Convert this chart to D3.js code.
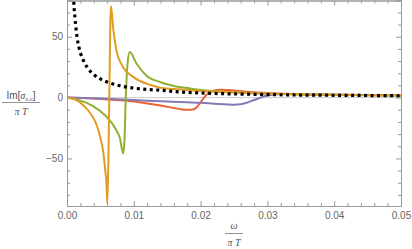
<!DOCTYPE html>
<html>
<head>
<meta charset="utf-8">
<script src="https://cdn.jsdelivr.net/npm/d3@7"></script>
<style>
  body { margin: 0; background: #fff; }
  svg { display: block; }
  .tick text { font-family: "Liberation Sans", Arial, sans-serif; font-size: 10px; fill: #666; }
  .lbl { font-family: "Liberation Serif", "Times New Roman", serif; fill: #555; }
</style>
</head>
<body>
<div id="chart"></div>
<script>
// curve samples: omega/(pi T) and Im[sigma]/(pi T)
var blackW = [0.0009, 0.001, 0.0012, 0.0015, 0.002, 0.0025, 0.003, 0.004, 0.005, 0.006, 0.007, 0.008, 0.01, 0.012, 0.014, 0.017, 0.02, 0.025, 0.03, 0.035, 0.04, 0.045, 0.05];
var blackV = [95, 80, 65, 50, 37, 30, 25, 19, 15.3, 12.8, 11, 9.6, 7.8, 6.7, 6, 4.6, 3.8, 3, 2.5, 2.1, 1.9, 1.7, 1.5];

var orangeW = [0, 0.0012, 0.0027, 0.0037, 0.00445, 0.0049, 0.00543, 0.00569, 0.00594, 0.00603, 0.0062, 0.00633, 0.0065, 0.0066, 0.0069, 0.0074, 0.0084, 0.0099, 0.0124, 0.0139, 0.016, 0.0184, 0.02, 0.025, 0.03, 0.035, 0.04, 0.05];
var orangeV = [0, -1.5, -7.7, -14.5, -22.7, -31, -44.6, -58, -74, -87, -50, 0, 65, 75, 58, 39, 25, 17, 10.5, 8.2, 7, 6, 5.5, 4.2, 3.2, 2.7, 2.3, 1.9];

var greenW = [0, 0.001, 0.002, 0.0037, 0.0057, 0.0072, 0.0079, 0.00843, 0.0086, 0.0088, 0.0091, 0.0094, 0.0104, 0.0119, 0.0139, 0.016, 0.0184, 0.02, 0.025, 0.03, 0.035, 0.04, 0.05];
var greenV = [0, -1, -2.5, -6.3, -14.5, -25, -33, -46, -35, 0, 30, 37.4, 28, 18, 12.8, 9.5, 7.5, 6.3, 4.3, 3.2, 2.6, 2.2, 1.8];

var redW = [0, 0.002, 0.004, 0.006, 0.008, 0.01, 0.012, 0.014, 0.016, 0.017, 0.018, 0.019, 0.0195, 0.02, 0.0205, 0.021, 0.0215, 0.022, 0.023, 0.024, 0.025, 0.0275, 0.03, 0.0325, 0.035, 0.04, 0.05];
var redV = [0, -0.3, -0.8, -1.5, -2.2, -3.3, -4.8, -6.5, -8.5, -9.5, -10, -9.5, -7.5, -4, 0, 3, 4.8, 5.8, 6.4, 6.3, 5.8, 4.6, 3.8, 3.2, 2.8, 2.3, 1.9];

var purpleW = [0, 0.005, 0.01, 0.015, 0.02, 0.022, 0.024, 0.025, 0.026, 0.027, 0.028, 0.029, 0.03, 0.031, 0.032, 0.033, 0.035, 0.04, 0.05];
var purpleV = [0, -0.8, -2, -3.2, -4.3, -5, -5.7, -5.9, -5.5, -4, -2, 0, 1.8, 2.6, 2.9, 2.9, 2.8, 2.4, 2];

var xMajor = [0, 0.01, 0.02, 0.03, 0.04, 0.05];
var xLabels = ["0.00", "0.01", "0.02", "0.03", "0.04", "0.05"];
var yMajor = [-50, 0, 50];
var yLabels = ["\u221250", "0", "50"];

var W = 412, H = 249;
var L = 67, R = 401, T = 0.5, B = 206;

var svg = d3.select("#chart").append("svg").attr("width", W).attr("height", H);

var x = d3.scaleLinear().domain([0, 0.05]).range([L, R]);
var y = d3.scaleLinear().domain([-89.1, 79.8]).range([B, T]);

var xMinor = d3.range(0, 0.0501, 0.002).filter(function(v) { return Math.abs(v * 100 - Math.round(v * 100)) > 1e-6; });
var yMinor = d3.range(-80, 80, 10).filter(function(v) { return v % 50 !== 0; });

// zero axis line
svg.append("line").attr("x1", L).attr("x2", R).attr("y1", y(0)).attr("y2", y(0))
    .attr("stroke", "#ccc").attr("stroke-width", 1);

// curves
svg.append("clipPath").attr("id", "clip").append("rect")
    .attr("x", L).attr("y", T).attr("width", R - L).attr("height", B - T);

var g = svg.append("g").attr("clip-path", "url(#clip)");
var line = d3.line().x(function(d) { return x(d[0]); }).y(function(d) { return y(d[1]); })
    .curve(d3.curveMonotoneX);

function series(ws, vs) { return ws.map(function(w, i) { return [w, vs[i]]; }); }

var curves = [
    { d: series(redW, redV), c: "#EB6235" },
    { d: series(purpleW, purpleV), c: "#8778B3" },
    { d: series(greenW, greenV), c: "#8FB032" },
    { d: series(orangeW, orangeV), c: "#E19C24" }
];
curves.forEach(function(s) {
    g.append("path").datum(s.d).attr("d", line)
        .attr("fill", "none").attr("stroke", s.c).attr("stroke-width", 2)
        .attr("stroke-linejoin", "round");
});
g.append("path").datum(series(blackW, blackV)).attr("d", line)
    .attr("fill", "none").attr("stroke", "#000").attr("stroke-width", 3.2)
    .attr("stroke-dasharray", "3,3.5");

// frame with inward ticks
function frame(axis, tx, ty, vals, size, labels) {
    var a = axis.tickValues(vals).tickSize(size).tickPadding(4)
        .tickFormat(function(d, i) { return labels ? labels[i] : ""; });
    var gg = svg.append("g").attr("transform", "translate(" + tx + "," + ty + ")").call(a);
    gg.selectAll("path, line").attr("stroke", "#999");
    return gg;
}
frame(d3.axisBottom(x), 0, B, xMajor, -5, xLabels).selectAll("text").attr("dy", "0.9em");
frame(d3.axisBottom(x), 0, B, xMinor, -3, null);
frame(d3.axisTop(x), 0, T, xMajor, -5, null);
frame(d3.axisTop(x), 0, T, xMinor, -3, null);
frame(d3.axisLeft(y), L, 0, yMajor, -5, yLabels);
frame(d3.axisLeft(y), L, 0, yMinor, -3, null);
frame(d3.axisRight(y), R, 0, yMajor, -5, null);
frame(d3.axisRight(y), R, 0, yMinor, -3, null);
svg.selectAll(".domain").attr("stroke", "#999");

// y label as a fraction
var yl = svg.append("g").attr("class", "lbl");
var num = yl.append("text").attr("x", 21).attr("y", 98.5).attr("text-anchor", "middle").attr("font-size", 10);
num.append("tspan").attr("font-family", "Liberation Sans, Arial, sans-serif").text("Im[");
num.append("tspan").attr("font-style", "italic").text("\u03c3");
num.append("tspan").attr("font-size", 7).attr("dy", 2).attr("font-style", "italic").text("s.c");
num.append("tspan").attr("dy", -2).attr("font-family", "Liberation Sans, Arial, sans-serif").text("]");
yl.append("line").attr("x1", 2).attr("x2", 40).attr("y1", 102.5).attr("y2", 102.5)
    .attr("stroke", "#777").attr("stroke-width", 0.8);
yl.append("text").attr("x", 21).attr("y", 114.5).attr("text-anchor", "middle").attr("font-size", 10)
    .attr("font-style", "italic").text("\u03c0 T");

// x label as a fraction
var xl = svg.append("g").attr("class", "lbl");
xl.append("text").attr("x", 234).attr("y", 229).attr("text-anchor", "middle").attr("font-size", 10)
    .attr("font-style", "italic").text("\u03c9");
xl.append("line").attr("x1", 225).attr("x2", 243).attr("y1", 233.5).attr("y2", 233.5)
    .attr("stroke", "#777").attr("stroke-width", 0.8);
xl.append("text").attr("x", 234).attr("y", 246).attr("text-anchor", "middle").attr("font-size", 10)
    .attr("font-style", "italic").text("\u03c0 T");
</script>
</body>
</html>
